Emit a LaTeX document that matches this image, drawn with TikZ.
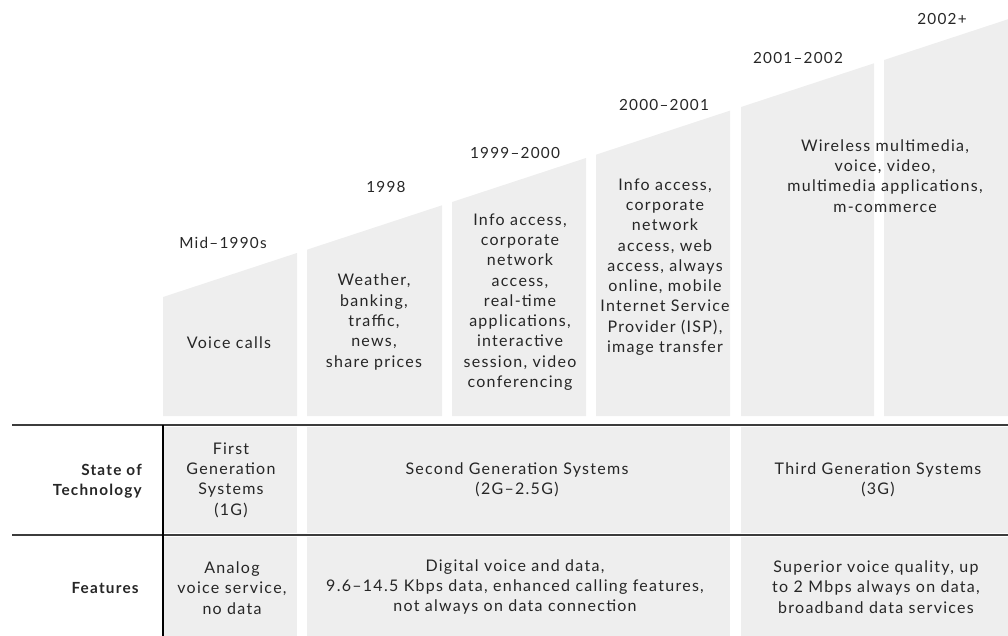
\documentclass[tikz,border=0pt]{standalone}
\usepackage{fontspec}
\setmainfont{Lato}[LetterSpace=8]
\definecolor{panel}{RGB}{238,238,238}
\definecolor{rule}{RGB}{60,60,60}
\begin{document}
\begin{tikzpicture}[x=0.75pt,y=-0.75pt,
  every node/.style={inner sep=0pt, text=black!85},
  txt/.style={align=center, font=\fontsize{12pt}{15.2pt}\selectfont},
  head/.style={align=right, anchor=east, font=\bfseries\fontsize{11.5pt}{15.2pt}\selectfont},
  year/.style={font=\fontsize{11.5pt}{15pt}\selectfont},
  hrule/.style={draw=rule, line width=1.6pt},
  vrule/.style={draw=black, line width=1.1pt},
  cell/.style={fill=panel}]
\useasboundingbox (0,0) rectangle (1008,636);

% slanted-top timeline columns: top edge y = 297 - 0.3287 (x - 163)
\def\colbot{416}
\foreach \xa/\xb in {163/297, 307/442, 452/586, 596/730, 741/874, 884/1008}{
  \pgfmathsetmacro\ya{297-0.3287*(\xa-163)}
  \pgfmathsetmacro\yb{297-0.3287*(\xb-163)}
  \fill[panel] (\xa,\colbot) -- (\xa,\ya) -- (\xb,\yb) -- (\xb,\colbot) -- cycle;
}

% table cells
\fill[cell] (163,427) rectangle (297,533);
\fill[cell] (307,427) rectangle (730,533);
\fill[cell] (741,427) rectangle (1008,533);
\fill[cell] (163,537) rectangle (297,636);
\fill[cell] (307,537) rectangle (730,636);
\fill[cell] (741,537) rectangle (1008,636);

% rules
\coordinate (r1a) at (12,425);  \coordinate (r1b) at (1008,425);
\coordinate (r2a) at (12,535);  \coordinate (r2b) at (1008,535);
\coordinate (vt) at (163,425);  \coordinate (vb) at (163,636);
\draw[hrule] (r1a) -- (r1b);
\draw[hrule] (r2a) -- (r2b);
\draw[vrule] (vt) -- (vb);

% years
\node[year] (y1) at (223,243) {Mid--1990s};
\node[year] (y2) at (386,187) {1998};
\node[year] (y3) at (515,153) {1999--2000};
\node[year] (y4) at (664,105) {2000--2001};
\node[year] (y5) at (798,58) {2001--2002};
\node[year] (y6) at (942,19) {2002+};

% applications per period
\node[txt] (c1) at (229,343) {Voice calls};
\node[txt] (c2) at (374,322) {Weather,\\banking,\\traffic,\\news,\\share prices};
\node[txt] (c3) at (520,302) {Info access,\\corporate\\network\\access,\\real-time\\applications,\\interactive\\session, video\\conferencing};
\node[txt] (c4) at (665,267) {Info access,\\corporate\\network\\access, web\\access, always\\online, mobile\\Internet Service\\Provider (ISP),\\image transfer};
\node[txt] (c5) at (885,176) {Wireless multimedia,\\voice, video,\\multimedia applications,\\m-commerce};

% row headings
\node[head] (hs) at (142,481) {State of\\Technology};
\node[head] (hf) at (139,588) {Features};

% technology generations
\node[txt] (g1) at (231,480) {First\\Generation\\Systems\\(1G)};
\node[txt] (g2) at (517,480) {Second Generation Systems\\(2G--2.5G)};
\node[txt] (g3) at (878,480) {Third Generation Systems\\(3G)};

% features
\node[txt] (f1) at (232,588) {Analog\\voice service,\\no data};
\node[txt] (f2) at (515,587) {Digital voice and data,\\9.6--14.5 Kbps data, enhanced calling features,\\not always on data connection};
\node[txt] (f3) at (876,587) {Superior voice quality, up\\to 2 Mbps always on data,\\broadband data services};
\end{tikzpicture}
\end{document}
